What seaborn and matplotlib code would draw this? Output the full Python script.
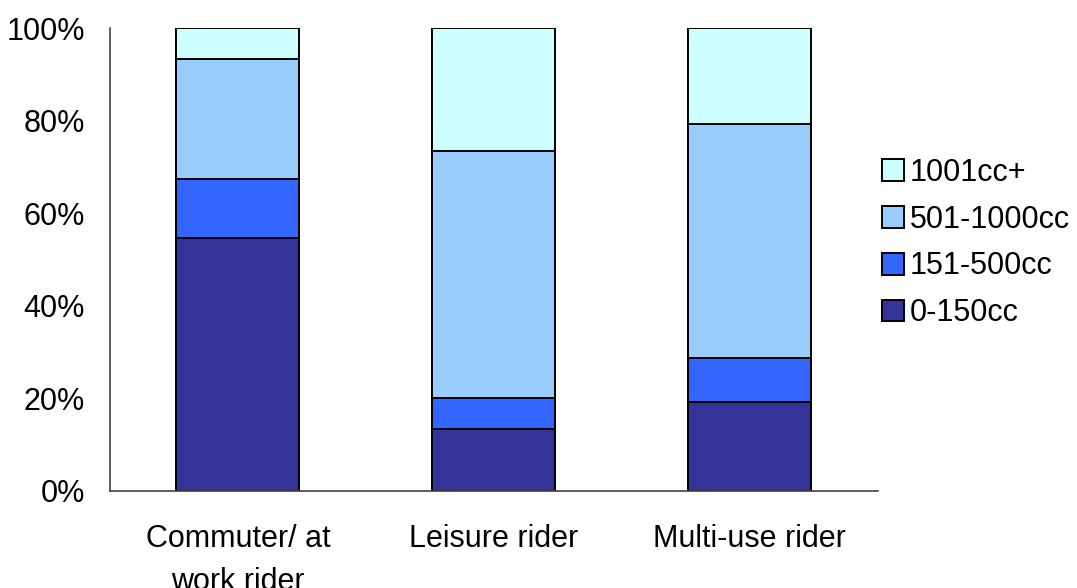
import matplotlib
matplotlib.use("Agg")
import matplotlib.pyplot as plt
from matplotlib.patches import Patch
from matplotlib.ticker import FixedLocator
import numpy as np
import seaborn as sns

# Share of riders by engine size within each rider type (%)
riders = ["Commuter/ at\nwork rider", "Leisure rider", "Multi-use rider"]
size_bands = ["0-150cc", "151-500cc", "501-1000cc", "1001cc+"]
share_0_150 = [54.7, 13.3, 19.2]
share_151_500 = [12.8, 6.9, 9.6]
share_501_1000 = [25.9, 53.3, 50.6]
share_1001_plus = [6.6, 26.5, 20.6]
band_colors = ["#333399", "#3366FF", "#99CCFF", "#CCFFFF"]

sns.set_style("white")
plt.rcParams["font.family"] = ["Liberation Sans", "DejaVu Sans"]
plt.rcParams["text.color"] = "black"
plt.rcParams["xtick.color"] = "black"
plt.rcParams["ytick.color"] = "black"

fig = plt.figure(figsize=(10.77, 5.88), dpi=100)
ax = fig.add_axes([0.102, 0.165, 0.713, 0.787])

series = [share_0_150, share_151_500, share_501_1000, share_1001_plus]
bottom = np.zeros(len(riders))
for vals, col in zip(series, band_colors):
    sns.barplot(x=riders, y=vals, bottom=bottom, color=col, width=0.48,
                edgecolor="black", linewidth=1.4, saturation=1, ax=ax)
    bottom = bottom + np.array(vals)

ax.set_xlim(-0.5, 2.5)
ax.set_ylim(0, 100)
ax.set_yticks(np.arange(0, 101, 20))
ax.set_yticklabels([f"{v}%" for v in range(0, 101, 20)])
ax.xaxis.set_minor_locator(FixedLocator([-0.5, 0.5, 1.5, 2.5]))
ax.tick_params(axis="x", which="major", length=0, pad=24, labelsize=22,
               labelcolor="black")
ax.tick_params(axis="x", which="minor", length=8, width=1, color="#444444", direction="out")
ax.tick_params(axis="y", length=8, width=1, color="#444444", direction="out", pad=10,
               labelsize=22, labelcolor="black")
for lbl in ax.get_xticklabels():
    lbl.set_linespacing(1.55)

for side in ["top", "right"]:
    ax.spines[side].set_visible(False)
for side in ["left", "bottom"]:
    ax.spines[side].set_color("#444444")
    ax.spines[side].set_linewidth(1.2)
ax.set_xlabel("")
ax.set_ylabel("")

handles = [Patch(facecolor=c, edgecolor="black", linewidth=1.4, label=l)
           for c, l in zip(band_colors, size_bands)][::-1]
fig.legend(handles=handles, loc="center left", bbox_to_anchor=(882 / 1077, 1 - 243 / 588),
           frameon=False, fontsize=22, handlelength=0.72, handleheight=0.72,
           handletextpad=0.2, labelspacing=0.55, borderpad=0, borderaxespad=0)

fig.savefig("out.png", dpi=100)
